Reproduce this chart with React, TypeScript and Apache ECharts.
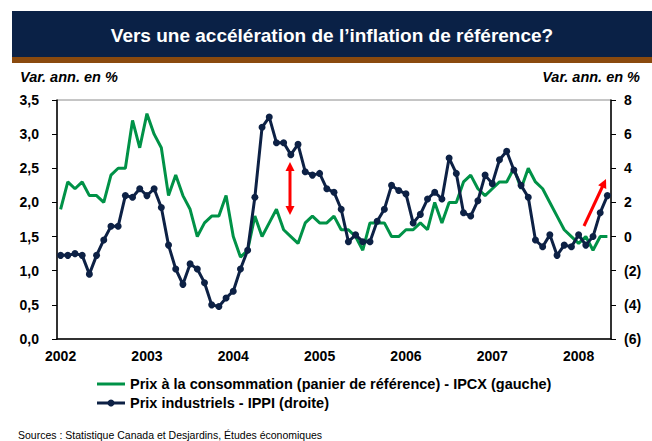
import React, { useEffect, useRef } from 'react';
import * as echarts from 'echarts';

// Monthly observations, Jan 2002 .. May 2008
const startYear = 2002;
const monthCount = 77;
const yearLabels = ['2002', '2003', '2004', '2005', '2006', '2007', '2008'];

// Prix à la consommation (panier de référence) - IPCX, % (left axis)
const ipcx = [
  1.9, 2.3, 2.2, 2.3, 2.1, 2.1, 2.0, 2.4, 2.5, 2.5, 3.2, 2.8,
  3.3, 3.0, 2.8, 2.1, 2.4, 2.1, 1.9, 1.5, 1.7, 1.8, 1.8, 2.1,
  1.5, 1.2, 1.3, 1.8, 1.5, 1.7, 1.9, 1.6, 1.5, 1.4, 1.7, 1.8,
  1.7, 1.7, 1.8, 1.6, 1.6, 1.5, 1.3, 1.7, 1.7, 1.7, 1.5, 1.5,
  1.6, 1.6, 1.7, 1.6, 2.0, 1.7, 2.0, 2.0, 2.3, 2.4, 2.2, 2.1,
  2.2, 2.3, 2.3, 2.5, 2.2, 2.5, 2.3, 2.2, 2.0, 1.8, 1.6, 1.5,
  1.4, 1.5, 1.3, 1.5, 1.5,
];

// Prix industriels - IPPI, % (right axis)
const ippi = [
  -1.1, -1.1, -1.0, -1.1, -2.2, -1.1, -0.2, 0.6, 0.6, 2.4, 2.3, 2.8,
  2.4, 2.8, 1.7, -0.5, -1.9, -2.8, -1.6, -1.9, -2.7, -4.0, -4.1, -3.6,
  -3.2, -1.9, -0.8, 2.3, 6.4, 7.0, 5.5, 5.5, 4.8, 5.4, 3.8, 3.6,
  3.7, 2.8, 2.6, 1.6, -0.3, 0.1, -0.3, -0.3, 0.9, 1.6, 3.0, 2.7,
  2.5, 0.8, 1.3, 2.2, 2.6, 2.2, 4.6, 3.7, 1.4, 1.2, 2.1, 3.6,
  3.1, 4.5, 5.0, 3.9, 3.0, 2.3, -0.2, -0.6, 0.1, -1.1, -0.5, -0.6,
  0.1, -0.5, 0.0, 1.4, 2.4,
];

const seriesNames = [
  'Prix à la consommation (panier de référence) - IPCX (gauche)',
  'Prix industriels - IPPI (droite)',
];

const categories: string[] = [];
for (let i = 0; i < monthCount; i++) {
  const y = startYear + Math.floor(i / 12);
  const m = (i % 12) + 1;
  categories.push(`${y}-${m < 10 ? '0' + m : m}`);
}

const FONT = '"Liberation Sans", Arial, sans-serif';
const GREEN = '#009247';
const NAVY = '#0d2145';
const RED = '#ff0000';

function arrowHead(tx: number, ty: number, fx: number, fy: number, len = 9, half = 4.5) {
  const dx = tx - fx;
  const dy = ty - fy;
  const d = Math.sqrt(dx * dx + dy * dy);
  const ux = dx / d;
  const uy = dy / d;
  const bx = tx - ux * len;
  const by = ty - uy * len;
  return {
    type: 'polygon',
    shape: { points: [[tx, ty], [bx - uy * half, by + ux * half], [bx + uy * half, by - ux * half]] },
    style: { fill: RED },
    z: 100,
  };
}

export default function App() {
  const ref = useRef<HTMLDivElement>(null);
  useEffect(() => {
    document.body.style.margin = '0';
    const chart = echarts.init(ref.current!, null, { renderer: 'svg' });
    chart.setOption({
      animation: false,
      backgroundColor: '#ffffff',
      grid: {
        left: 57, right: 41, top: 100, bottom: 102,
        show: true, borderColor: '#8c8c8c', borderWidth: 1,
      },
      xAxis: {
        type: 'category',
        data: categories,
        boundaryGap: true,
        axisLine: { lineStyle: { color: '#000', width: 1.5 } },
        axisTick: { show: false },
        axisLabel: {
          interval: (idx: number) => idx % 12 === 0,
          formatter: (v: string) => yearLabels[Number(v.slice(0, 4)) - startYear],
          color: '#000', fontWeight: 'bold', fontSize: 14, fontFamily: FONT, margin: 10,
        },
        splitLine: { show: false },
      },
      yAxis: [
        {
          type: 'value', min: 0, max: 3.5, interval: 0.5, position: 'left',
          axisLine: { show: true, lineStyle: { color: '#000', width: 1.5 } },
          axisTick: { show: true, length: 5, lineStyle: { color: '#000' } },
          axisLabel: {
            formatter: (v: number) => v.toFixed(1).replace('.', ','),
            color: '#000', fontWeight: 'bold', fontSize: 14, fontFamily: FONT, margin: 18,
          },
          splitLine: { show: false },
        },
        {
          type: 'value', min: -6, max: 8, interval: 2, position: 'right',
          axisLine: { show: true, lineStyle: { color: '#000', width: 1.5 } },
          axisTick: { show: true, length: 5, lineStyle: { color: '#000' } },
          axisLabel: {
            formatter: (v: number) => (v < 0 ? `(${Math.abs(v)})` : `${v}`),
            color: '#000', fontWeight: 'bold', fontSize: 14, fontFamily: FONT, margin: 13,
          },
          splitLine: { show: false },
        },
      ],
      series: [
        {
          name: seriesNames[0],
          type: 'line', yAxisIndex: 0, data: ipcx,
          symbol: 'none', lineStyle: { color: GREEN, width: 3 }, itemStyle: { color: GREEN },
          z: 2,
        },
        {
          name: seriesNames[1],
          type: 'line', yAxisIndex: 1, data: ippi,
          symbol: 'circle', symbolSize: 7, showSymbol: true, showAllSymbol: true,
          lineStyle: { color: NAVY, width: 3 }, itemStyle: { color: NAVY },
          z: 3,
        },
      ],
      graphic: [
        { type: 'rect', shape: { x: 12, y: 11, width: 640, height: 46 }, style: { fill: '#0a2146' } },
        { type: 'rect', shape: { x: 12, y: 57, width: 640, height: 6 }, style: { fill: '#8a4a0e' } },
        {
          type: 'text', x: 332, y: 35,
          style: {
            text: 'Vers une accélération de l’inflation de référence?',
            fill: '#fff', font: `bold 19px ${FONT}`, align: 'center', verticalAlign: 'middle',
          },
        },
        {
          type: 'text', x: 20, y: 77,
          style: { text: 'Var. ann. en %', fill: '#000', font: `italic bold 14.5px ${FONT}`, align: 'left', verticalAlign: 'middle' },
        },
        {
          type: 'text', x: 640, y: 77,
          style: { text: 'Var. ann. en %', fill: '#000', font: `italic bold 14.5px ${FONT}`, align: 'right', verticalAlign: 'middle' },
        },
        // legend
        { type: 'line', shape: { x1: 97, y1: 384, x2: 125, y2: 384 }, style: { stroke: GREEN, lineWidth: 3 } },
        {
          type: 'text', x: 130, y: 384,
          style: { text: seriesNames[0], fill: '#000', font: `bold 14.5px ${FONT}`, align: 'left', verticalAlign: 'middle' },
        },
        { type: 'line', shape: { x1: 97, y1: 403, x2: 125, y2: 403 }, style: { stroke: NAVY, lineWidth: 3 } },
        { type: 'circle', shape: { cx: 111, cy: 403, r: 3.5 }, style: { fill: NAVY } },
        {
          type: 'text', x: 130, y: 403,
          style: { text: seriesNames[1], fill: '#000', font: `bold 14.5px ${FONT}`, align: 'left', verticalAlign: 'middle' },
        },
        {
          type: 'text', x: 18, y: 435,
          style: { text: 'Sources : Statistique Canada et Desjardins, Études économiques', fill: '#000', font: `10.5px ${FONT}`, align: 'left', verticalAlign: 'middle' },
        },
        { type: 'line', shape: { x1: 290, y1: 170, x2: 290, y2: 207 }, style: { stroke: RED, lineWidth: 3 }, z: 100 },
        arrowHead(290, 162, 290, 214),
        arrowHead(290, 215, 290, 163),
        { type: 'line', shape: { x1: 584, y1: 226, x2: 602.5, y2: 186.5 }, style: { stroke: RED, lineWidth: 3 }, z: 100 },
        arrowHead(606, 179, 584, 226),
      ],
    });
    return () => chart.dispose();
  }, []);
  return <div ref={ref} style={{ width: 652, height: 441 }} />;
}
